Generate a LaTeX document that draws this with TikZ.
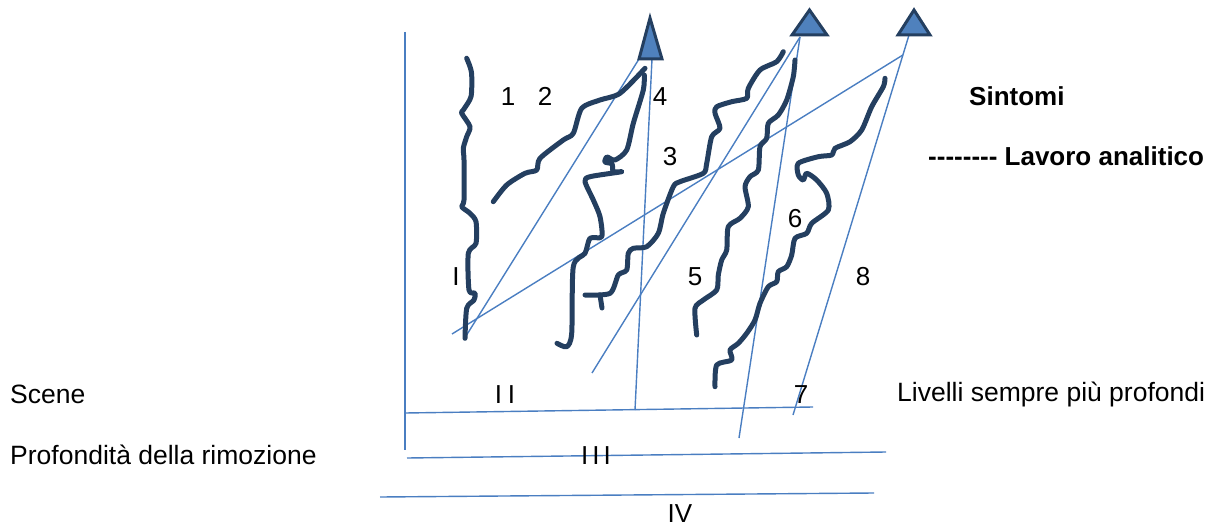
\documentclass[tikz,border=0pt]{standalone}
\usepackage{fontspec}
\setmainfont{Liberation Sans}
\definecolor{lblue}{HTML}{4A7EC1}
\definecolor{navy}{HTML}{243F60}
\definecolor{tfill}{HTML}{4F81BD}
\newcommand{\hy}{-\kern0pt}
\begin{document}
\begin{tikzpicture}[x=1pt,y=-1pt,
  thinl/.style={draw=lblue, line width=1.4pt},
  wave/.style={draw=navy, line width=5pt, line join=round, line cap=round},
  tri/.style={draw=navy, line width=3pt, fill=tfill, line join=miter},
  lbl/.style={font=\fontsize{26}{30}\selectfont, inner sep=0pt, anchor=base},
  lbll/.style={font=\fontsize{26.5}{30}\selectfont, inner sep=0pt, anchor=base west},
  bold/.style={font=\fontsize{26}{30}\selectfont\bfseries, inner sep=0pt, anchor=base west}]
\useasboundingbox (0,0) rectangle (1226,527);

% axes and level lines
\coordinate (axT) at (405,32);  \coordinate (axB) at (405,450);
\coordinate (l2a) at (405,413); \coordinate (l2b) at (813,407);
\coordinate (l3a) at (407,458); \coordinate (l3b) at (886,452);
\coordinate (l4a) at (380,497); \coordinate (l4b) at (874,493);
\draw[thinl] (axT) -- (axB);
\draw[thinl] (l2a) -- (l2b);
\draw[thinl] (l3a) -- (l3b);
\draw[thinl] (l4a) -- (l4b);

% analytic work lines
\coordinate (t1a) at (639,59);  \coordinate (t1c) at (652,59);
\coordinate (t2a) at (800,37);
\coordinate (t3a) at (909,35);  \coordinate (t3b) at (902.9,55);
\coordinate (e1) at (466,336);
\coordinate (e2) at (452,334);
\coordinate (e3) at (635,410);
\coordinate (e4) at (592,373);
\coordinate (e5) at (739,438);
\coordinate (e6) at (793,415);
\draw[thinl] (t1a) -- (e1);
\draw[thinl] (t1c) -- (e3);
\draw[thinl] (t2a) -- (e4);
\draw[thinl] (t2a) -- (e5);
\draw[thinl] (t3a) -- (e6);
\draw[thinl] (t3b) -- (e2);

% wavy curves (scenes)
\draw[wave] plot[smooth, tension=0.45] coordinates {(466.7,58.3) (470,66.7) (471.7,75) (471,96.7) (463.3,110) (461.7,113.3) (470,126.7) (466.7,136.7) (463.3,148.3) (464,160) (464,200) (461.7,206.7) (470,213.3) (476,221.7) (476,243.3) (468.3,253.3) (469,290) (475,293.3) (474,300) (466.7,308.3) (465,338.3)};
\draw[wave] plot[smooth, tension=0.45] coordinates {(493.3,201.7) (506.7,185) (525,173.3) (536.7,170) (540,158.3) (563.3,140) (573.3,133.3) (581.7,108.3) (600,100) (620,93.3) (645,68.3)};
\draw[wave] plot[smooth, tension=0.45] coordinates {(644.3,75) (643.3,90) (633.3,123.3) (626.7,150) (615,160) (607,157) (605,162) (612,164) (613.3,171.7) (621.7,171.7) (590,176.7) (585,181.7) (593.3,200) (600,216.7) (601.7,236.7) (590,238.3) (585,253.3) (573.3,266.7) (571.7,333.3) (566.7,346.7) (557,343.3)};
\draw[wave] plot[smooth, tension=0.45] coordinates {(585,295) (610,293.3) (618.3,275) (626.7,270) (628.3,253.3) (633.3,248.3) (646.7,246.7) (658.3,233.3) (663.3,213.3) (673.3,186.7) (680,181.7) (703.3,173.3) (706.7,163.3) (711.7,136.7) (720,128.3) (715,113.3) (716.7,106.7) (731.7,101.7) (746.7,98.3) (748.3,88.3) (760,70) (776.7,61.7) (783.3,51.7)};
\draw[wave] (600,295) -- (602,308);
\draw[wave] plot[smooth, tension=0.45] coordinates {(795,60) (793.3,76.7) (786.7,100) (778.3,115) (768.3,123.3) (766.7,138.3) (760,146.7) (758.3,170) (750,176.7) (745,186.7) (748.3,206.7) (740,218.3) (728.3,226.7) (726.7,250) (721.7,260) (718.3,275) (716.7,290) (703.3,300) (695,308.3) (696.7,335)};
\draw[wave] plot[smooth, tension=0.45] coordinates {(885,78.3) (883.3,86.7) (871.7,106.7) (861.7,130) (850,141.7) (835,148.3) (831.7,155) (818.3,156.7) (798.3,163.3) (798.3,175) (803.3,180) (806.7,173.3) (816.7,180) (826.7,193.3) (828.3,210) (811.7,223.3) (806.7,233.3) (795,238.3) (791.7,255) (786.7,266.7) (778.3,271.7) (776.7,281.7) (768.3,286.7) (760,303.3) (755,320) (746.7,333.3) (738.3,343.3) (730,350) (731.7,360) (716.7,365) (715,386.7)};

% symptoms triangles
\draw[tri] (650,18) -- (662,59) -- (639,59) -- cycle;
\draw[tri] (809.5,10) -- (827,35) -- (792,35) -- cycle;
\draw[tri] (914,10) -- (930,35) -- (898,35) -- cycle;

% numbers
\node[lbl] (n1) at (508,106) {1};
\node[lbl] (n2) at (545,106) {2};
\node[lbl] (n4) at (660,106) {4};
\node[lbl] (n3) at (670,165) {3};
\node[lbl] (nI) at (456,285) {I};
\node[lbl] (n5) at (695,285) {5};
\node[lbl] (n6) at (795,227) {6};
\node[lbl] (n8) at (863,285) {8};
\node[lbl] (n7) at (801,403) {7};
\node[lbl] (nII) at (505,403) {I\hspace{6pt}I};
\node[lbl] (nIII) at (596,464) {I\hspace{4pt}I\hspace{4pt}I};
\node[lbl] (nIV) at (680,522) {IV};

% side texts
\node[bold] (sint) at (969,106) {Sintomi};
\node[bold] (lav) at (928,165) {\hy\hy\hy\hy\hy\hy\hy\hy\ Lavoro analitico};
\node[lbll] (scene) at (10,403) {Scene};
\node[lbll] (prof) at (10,464) {Profondità della rimozione};
\node[lbll] (liv) at (897,401) {Livelli sempre più profondi};
\end{tikzpicture}
\end{document}
